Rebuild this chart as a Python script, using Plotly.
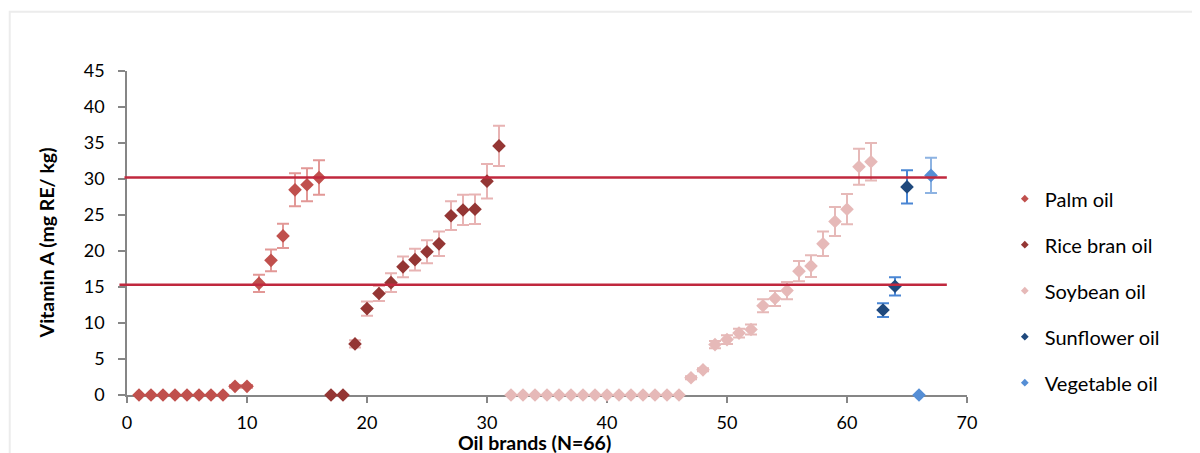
import plotly.graph_objects as go

# ---------------- data ----------------
palm_x = list(range(1, 17))
palm_y = [0, 0, 0, 0, 0, 0, 0, 0, 1.2, 1.2, 15.5, 18.7, 22.1, 28.5, 29.2, 30.2]
palm_err = [0, 0, 0, 0, 0, 0, 0, 0, 0.2, 0.2, 1.2, 1.5, 1.7, 2.3, 2.3, 2.4]

rice_x = list(range(17, 32))
rice_y = [0, 0, 7.1, 12.0, 14.1, 15.6, 17.8, 18.8, 19.9, 21.0, 24.9, 25.7, 25.8, 29.7, 34.6]
rice_err = [0, 0, 0.5, 1.0, 1.05, 1.3, 1.45, 1.5, 1.6, 1.7, 2.0, 2.1, 2.05, 2.4, 2.8]

soy_x = list(range(32, 63))
soy_y = [0] * 15 + [2.4, 3.5, 7.0, 7.7, 8.6, 9.1, 12.4, 13.4, 14.5, 17.2, 17.9,
                    21.0, 24.1, 25.8, 31.7, 32.4]
soy_err = [0] * 15 + [0.2, 0.2, 0.5, 0.6, 0.6, 0.7, 0.9, 1.05, 1.2, 1.4, 1.5,
                      1.7, 2.0, 2.1, 2.5, 2.6]

sun_x = [63, 64, 65]
sun_y = [11.8, 15.1, 28.9]
sun_err = [0.95, 1.27, 2.3]

veg_x = [66, 67]
veg_y = [0, 30.5]
veg_err = [0, 2.45]

ref_lines = [30.2, 15.3]

x_title = "Oil brands (N=66)"
y_title = "Vitamin A (mg RE/ kg)"

series = [
    ("Palm oil", palm_x, palm_y, palm_err, "#c0504d", "#e29896"),
    ("Rice bran oil", rice_x, rice_y, rice_err, "#943634", "#e8b3b3"),
    ("Soybean oil", soy_x, soy_y, soy_err, "#e6b9b8", "#e6b9b8"),
    ("Sunflower oil", sun_x, sun_y, sun_err, "#1f497d", "#4a86d4"),
    ("Vegetable oil", veg_x, veg_y, veg_err, "#558ed5", "#8db3e2"),
]

FONT = "Lato, Carlito, Calibri, sans-serif"

fig = go.Figure()

for name, xs, ys, es, col, ecol in series:
    fig.add_trace(go.Scatter(
        x=xs, y=ys, mode="markers", name=name, showlegend=False,
        cliponaxis=False,
        marker=dict(symbol="diamond", size=10.5, color=col, line=dict(width=0)),
        error_y=dict(type="data", array=es, visible=True, color=ecol,
                     thickness=2, width=6),
    ))

# legend-only entries with smaller markers
for i, (name, xs, ys, es, col, ecol) in enumerate(series):
    fig.add_trace(go.Scatter(
        x=[None], y=[None], mode="markers", name=name, legendgroup=f"g{i}",
        marker=dict(symbol="diamond", size=6, color=col),
    ))

# reference lines
for yv, x0 in zip(ref_lines, [-0.003, -0.009]):
    fig.add_shape(type="line", xref="paper", yref="y", x0=x0, x1=0.976,
                  y0=yv, y1=yv, line=dict(color="#c0283e", width=2.5),
                  layer="above")

# outer light border
fig.add_shape(type="rect", xref="paper", yref="paper",
              x0=-0.1396, x1=1.35, y0=-0.4, y1=1.183,
              line=dict(color="#ececec", width=2), layer="below")

# axis titles as annotations (exact placement)
fig.add_annotation(text=f"<b>{x_title}</b>", xref="paper", yref="paper",
                   x=0.4855, y=-0.148, xanchor="center", yanchor="middle",
                   showarrow=False, font=dict(family=FONT, size=19.5, color="#000"))
fig.add_annotation(text=f"<b>{y_title}</b>", xref="paper", yref="paper",
                   x=-0.0956, y=0.47, xanchor="center", yanchor="middle",
                   textangle=-90, showarrow=False,
                   font=dict(family=FONT, size=19.5, color="#000"))

# the page places the figure 8px from the top-left corner; compensate
fig.update_layout(
    width=1200, height=453,
    margin=dict(l=119.3, r=240.7, t=63.3, b=65.7, autoexpand=False),
    paper_bgcolor="white", plot_bgcolor="white",
    font=dict(family=FONT, size=18, color="#000000"),
    showlegend=True,
    legend=dict(x=1.045, y=0.666, xanchor="left", yanchor="top",
                traceorder="grouped", tracegroupgap=17,
                font=dict(family=FONT, size=20, color="#000000"),
                bgcolor="rgba(0,0,0,0)"),
    xaxis=dict(range=[0, 70], dtick=10, tick0=0, showgrid=False, zeroline=False,
               automargin=False,
               showline=True, linecolor="#868686", linewidth=1.5,
               ticks="outside", ticklen=6, tickcolor="#868686", tickwidth=1.5,
               ticklabelstandoff=5, layer="below traces",
               tickfont=dict(family=FONT, size=18, color="#000000")),
    yaxis=dict(range=[0, 45], dtick=5, tick0=0, showgrid=False, zeroline=False,
               automargin=False,
               showline=True, linecolor="#868686", linewidth=1.5,
               ticks="outside", ticklen=7, tickcolor="#868686", tickwidth=1.5,
               ticklabelstandoff=10, layer="below traces",
               tickfont=dict(family=FONT, size=18, color="#000000")),
)

fig.write_html("out.html")
